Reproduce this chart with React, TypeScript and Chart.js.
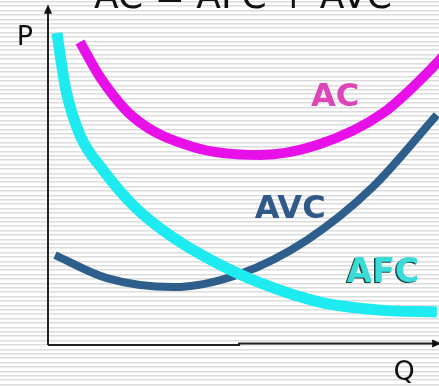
import React, { useEffect, useRef } from "react";
import { Chart, registerables } from "chart.js";

Chart.register(...registerables);

// Quantity (Q) and price (P) values
const afcQ = [0.23, 0.33, 0.46, 0.82, 1.41, 2.23, 3.18, 4.28, 5.44, 6.97, 8.51, 9.97];
const afcP = [9.75, 8.91, 7.97, 6.56, 5.47, 4.31, 3.38, 2.59, 1.94, 1.34, 1.09, 1.03];

const acQ = [0.82, 1.33, 2.18, 3.72, 5.44, 6.9, 8.59, 9.97, 10.23];
const acP = [9.47, 8.38, 7.13, 6.19, 5.94, 6.25, 7.25, 8.81, 9.16];

const avcQ = [0.18, 1.51, 3.21, 4.92, 6.64, 8.33, 9.97];
const avcP = [2.81, 2.09, 1.81, 2.22, 3.28, 4.94, 7.19];

const titleText = "AC = AFC + AVC";
const axisLabels = ["P", "Q"];
const seriesNames = ["AFC", "AC", "AVC"];

const pts = (xs: number[], ys: number[]) => xs.map((x, i) => ({ x, y: ys[i] }));

const FONT = '"DejaVu Sans", sans-serif';

const decorPlugin = {
  id: "decor",
  beforeDraw(chart: any) {
    const { ctx, width, height } = chart;
    ctx.save();
    ctx.fillStyle = "#ffffff";
    ctx.fillRect(0, 0, width, height);
    ctx.fillStyle = "#dcdcdc";
    for (let y = 1; y < height; y += 4.4) {
      ctx.fillRect(0, Math.round(y), width, 1.5);
    }
    ctx.restore();
  },
  afterDatasetsDraw(chart: any) {
    const { ctx } = chart;
    const xs = chart.scales.x;
    const ys = chart.scales.y;
    const X = (v: number) => xs.getPixelForValue(v);
    const Y = (v: number) => ys.getPixelForValue(v);
    ctx.save();
    // axes
    const x0 = X(0);
    const y0 = Y(0);
    ctx.strokeStyle = "#222";
    ctx.lineWidth = 2;
    ctx.beginPath();
    ctx.moveTo(x0, y0);
    ctx.lineTo(x0, Y(10.4));
    ctx.stroke();
    ctx.beginPath();
    ctx.moveTo(x0, y0);
    ctx.lineTo(X(4.9), y0);
    ctx.lineTo(X(4.9), y0 - 1.5);
    ctx.lineTo(X(9.9), y0 - 1.5);
    ctx.stroke();
    ctx.fillStyle = "#111";
    // arrowheads
    ctx.beginPath();
    ctx.moveTo(x0, Y(10.65));
    ctx.lineTo(x0 - 4, Y(10.35));
    ctx.lineTo(x0 + 4, Y(10.35));
    ctx.closePath();
    ctx.fill();
    ctx.beginPath();
    ctx.moveTo(X(10.03) + 2, y0 - 1.5);
    ctx.lineTo(X(9.85), y0 - 5.5);
    ctx.lineTo(X(9.85), y0 + 2.5);
    ctx.closePath();
    ctx.fill();

    // title & axis labels
    ctx.textAlign = "center";
    ctx.textBaseline = "alphabetic";
    ctx.fillStyle = "#111";
    ctx.font = `36px ${FONT}`;
    ctx.fillText(titleText, X(5.0), Y(10.53));
    ctx.font = `27px ${FONT}`;
    ctx.fillText(axisLabels[0], X(-0.59), Y(9.375));
    ctx.fillText(axisLabels[1], X(9.13), Y(-1.09));

    // series labels
    ctx.font = `bold 32px ${FONT}`;
    ctx.fillStyle = "#dc46b6";
    ctx.fillText(seriesNames[1], X(7.36), Y(7.47));
    ctx.fillStyle = "#2f5a88";
    ctx.fillText(seriesNames[2], X(6.21), Y(3.97));
    ctx.font = `bold 33px ${FONT}`;
    ctx.fillStyle = "#1c4848";
    ctx.fillText(seriesNames[0], X(8.59) - 1.5, Y(1.97) + 1.5);
    ctx.fillStyle = "#3adcd8";
    ctx.fillText(seriesNames[0], X(8.59), Y(1.97));
    ctx.restore();
  },
};

export default function App() {
  const ref = useRef<HTMLCanvasElement | null>(null);
  useEffect(() => {
    if (!ref.current) return;
    const chart = new Chart(ref.current, {
      type: "line",
      data: {
        datasets: [
          {
            label: seriesNames[0],
            data: pts(afcQ, afcP),
            borderColor: "#1debf0",
            borderWidth: 11,
          },
          {
            label: seriesNames[1],
            data: pts(acQ, acP),
            borderColor: "#e810e8",
            borderWidth: 10,
          },
          {
            label: seriesNames[2],
            data: pts(avcQ, avcP),
            borderColor: "#2e5e8c",
            borderWidth: 8,
          },
        ],
      },
      options: {
        responsive: false,
        animation: false,
        events: [],
        layout: { padding: 0 },
        elements: {
          point: { radius: 0 },
          line: { cubicInterpolationMode: "monotone", borderCapStyle: "butt", borderJoinStyle: "round", fill: false },
        },
        plugins: { legend: { display: false }, tooltip: { enabled: false }, title: { display: false } },
        scales: {
          x: { type: "linear", display: false, min: -48 / 39, max: 391 / 39 },
          y: { type: "linear", display: false, min: -41 / 32, max: 345 / 32 },
        },
      },
      plugins: [decorPlugin],
    });
    return () => chart.destroy();
  }, []);
  return (
    <div style={{ position: "absolute", left: 0, top: 0, width: 439, height: 386 }}>
      <canvas ref={ref} width={439} height={386} style={{ display: "block" }} />
    </div>
  );
}
